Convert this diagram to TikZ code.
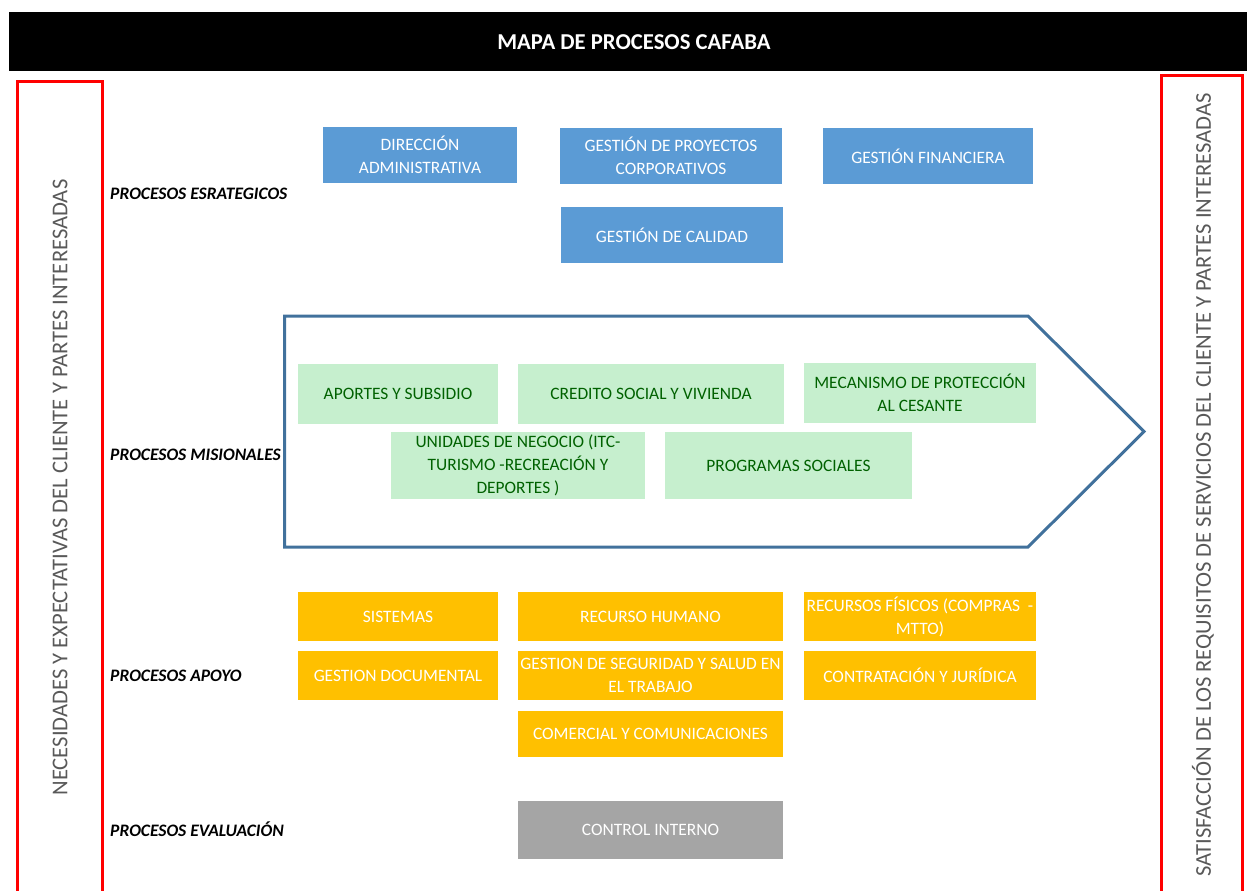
\documentclass[tikz,border=0pt]{standalone}
\usepackage{fontspec}
\setmainfont{Carlito}
\definecolor{bluebg}{HTML}{5B9BD5}
\definecolor{greenbg}{HTML}{C6EFCE}
\definecolor{greentx}{HTML}{006100}
\definecolor{orangebg}{HTML}{FFC000}
\definecolor{graybg}{HTML}{A5A5A5}
\definecolor{arrowln}{HTML}{41719C}
\definecolor{sidetx}{HTML}{595959}
\tikzset{
  base/.style={inner sep=0pt, align=center, font=\fontsize{17.4}{23}\selectfont},
  bluebox/.style={base, fill=bluebg, text=white},
  greenbox/.style={base, fill=greenbg, text=greentx},
  orangebox/.style={base, fill=orangebg, text=white},
  graybox/.style={base, fill=graybg, text=white},
  lvl/.style={anchor=west, inner sep=0pt, font=\fontsize{17.5}{20}\selectfont\bfseries\itshape},
  sidebox/.style={draw=red, line width=3pt},
  sidetext/.style={rotate=90, inner sep=0pt, text=sidetx, font=\fontsize{22.6}{26}\selectfont}
}
\begin{document}
\begin{tikzpicture}[x=1pt,y=-1pt]
\useasboundingbox (0,0) rectangle (1247,891);
% title bar
\fill[black] (9,12) rectangle (1252,71);
\node[inner sep=0pt, text=white, font=\fontsize{22.7}{26}\selectfont\bfseries] (title) at (634,42) {MAPA DE PROCESOS CAFABA};
% side boxes
\draw[sidebox] (17.5,81.5) rectangle (102,900);
\node[sidetext] (lefttext) at (60,487.5) {NECESIDADES Y EXPECTATIVAS DEL CLIENTE Y PARTES INTERESADAS};
\draw[sidebox] (1161.5,75.5) rectangle (1242.5,900);
\node[sidetext] (righttext) at (1203,485) {SATISFACCIÓN DE LOS REQUISITOS DE SERVICIOS DEL CLIENTE Y PARTES INTERESADAS};
% level labels
\node[lvl] (lest) at (110,194) {PROCESOS ESRATEGICOS};
\node[lvl] (lmis) at (110,455) {PROCESOS MISIONALES};
\node[lvl] (lapo) at (110,676) {PROCESOS APOYO};
\node[lvl] (leva) at (110,829) {PROCESOS EVALUACIÓN};
% strategic
\node[bluebox, minimum width=194, minimum height=56] (dir) at (420,155) {DIRECCIÓN\\ADMINISTRATIVA};
\node[bluebox, minimum width=222, minimum height=56] (gpc) at (671,156) {GESTIÓN DE PROYECTOS\\CORPORATIVOS};
\node[bluebox, minimum width=210, minimum height=56] (gfin) at (928,156) {GESTIÓN FINANCIERA};
\node[bluebox, minimum width=222, minimum height=56] (gcal) at (672,235) {GESTIÓN DE CALIDAD};
% mission arrow
\draw[arrowln, line width=3pt, line join=miter] (284.5,316) -- (1028,316) -- (1144,431.5) -- (1028,547) -- (284.5,547) -- cycle;
\node[greenbox, minimum width=200, minimum height=60] (apo) at (398,394) {APORTES Y SUBSIDIO};
\node[greenbox, minimum width=266, minimum height=60] (cred) at (651,394) {CREDITO SOCIAL Y VIVIENDA};
\node[greenbox, minimum width=232, minimum height=60] (mec) at (920,393) {MECANISMO DE PROTECCIÓN\\AL CESANTE};
\node[greenbox, minimum width=254, minimum height=67] (uni) at (518,465.5) {UNIDADES DE NEGOCIO (ITC-\\TURISMO -RECREACIÓN Y\\DEPORTES )};
\node[greenbox, minimum width=247, minimum height=67] (prog) at (788.5,465.5) {PROGRAMAS SOCIALES};
% support
\node[orangebox, minimum width=200, minimum height=49] (sis) at (398,616.5) {SISTEMAS};
\node[orangebox, minimum width=265, minimum height=49] (rh) at (650.5,616.5) {RECURSO HUMANO};
\node[orangebox, minimum width=232, minimum height=49] (rf) at (920,616.5) {RECURSOS FÍSICOS (COMPRAS~~-\\MTTO)};
\node[orangebox, minimum width=200, minimum height=49] (gd) at (398,675.5) {GESTION DOCUMENTAL};
\node[orangebox, minimum width=265, minimum height=49] (gss) at (650.5,675.5) {GESTION DE SEGURIDAD Y SALUD EN\\EL TRABAJO};
\node[orangebox, minimum width=232, minimum height=49] (con) at (920,675.5) {CONTRATACIÓN Y JURÍDICA};
\node[orangebox, minimum width=265, minimum height=46] (com) at (650.5,734) {COMERCIAL Y COMUNICACIONES};
% evaluation
\node[graybox, minimum width=265, minimum height=58] (ci) at (650.5,830) {CONTROL INTERNO};
\end{tikzpicture}
\end{document}
